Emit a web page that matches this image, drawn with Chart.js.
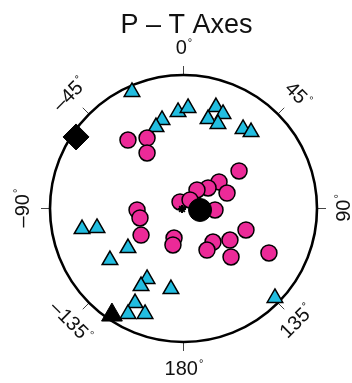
<!DOCTYPE html>
<html>
<head>
<meta charset="utf-8">
<script src="https://cdn.jsdelivr.net/npm/chart.js@4/dist/chart.umd.min.js"></script>
<style>
  html, body { margin: 0; padding: 0; background: #ffffff; }
  #c { display: block; }
</style>
</head>
<body>
<canvas id="c" width="352" height="383"></canvas>
<script>
// ---- data (projected positions inside the unit stereonet circle: x = east, y = north) ----
const titleText = "P \u2013 T Axes";

const tAxesX = [-0.386, -0.161, -0.206, -0.041, 0.034, 0.243, 0.296, 0.184, 0.258, 0.446, 0.506,
                -0.760, -0.648, -0.416, -0.551, -0.273, -0.318, -0.094, -0.363, -0.416, -0.288, 0.685];
const tAxesY = [0.873, 0.663, 0.610, 0.723, 0.753, 0.760, 0.708, 0.670, 0.633, 0.596, 0.573,
                -0.154, -0.146, -0.296, -0.386, -0.528, -0.581, -0.603, -0.708, -0.790, -0.790, -0.670];

const pAxesX = [-0.416, -0.273, -0.273, 0.416, 0.266, 0.184, 0.101, 0.326, -0.026, 0.049, 0.236,
                -0.348, -0.326, -0.318, -0.071, -0.079, 0.468, 0.348, 0.221, 0.176, 0.356, 0.640];
const pAxesY = [0.513, 0.528, 0.416, 0.281, 0.199, 0.154, 0.139, 0.116, 0.049, 0.064, -0.011,
                -0.011, -0.071, -0.199, -0.221, -0.273, -0.161, -0.236, -0.251, -0.311, -0.363, -0.333];

const meanPX = [0.124];   const meanPY = [-0.011];
const starX = [-0.011];   const starY = [-0.004];
const bAxisX = [-0.805];  const bAxisY = [0.536];
const meanTX = [-0.536];  const meanTY = [-0.798];

const tickAngles = [0, 45, 90, 135, 180, -135, -90, -45];
const tickLabels = ["0", "45", "90", "135", "180", "\u2013135", "\u201390", "\u201345"];

// ---- helpers ----
function pts(xs, ys) { return xs.map((x, i) => ({ x: x, y: ys[i] })); }

const labelRotation = { "0": 0, "45": 45, "90": -90, "135": -45, "180": 0, "-135": 45, "-90": -90, "-45": -45 };

const stereonetPlugin = {
  id: 'stereonet',
  beforeDatasetsDraw(chart) {
    const ctx = chart.ctx;
    const xs = chart.scales.x, ys = chart.scales.y;
    const cx = xs.getPixelForValue(0), cy = ys.getPixelForValue(0);
    const R = xs.getPixelForValue(1) - cx;
    ctx.save();
    // ticks
    ctx.strokeStyle = '#444';
    ctx.lineWidth = 1;
    tickAngles.forEach(a => {
      const t = a * Math.PI / 180;
      ctx.beginPath();
      ctx.moveTo(cx + Math.sin(t) * (R - 1), cy - Math.cos(t) * (R - 1));
      ctx.lineTo(cx + Math.sin(t) * (R + 9), cy - Math.cos(t) * (R + 9));
      ctx.stroke();
    });
    // outer circle
    ctx.strokeStyle = '#000';
    ctx.lineWidth = 2.6;
    ctx.beginPath();
    ctx.arc(cx, cy, R, 0, Math.PI * 2);
    ctx.stroke();
    // labels
    ctx.fillStyle = '#111';
    ctx.textBaseline = 'middle';
    ctx.textAlign = 'left';
    tickAngles.forEach((a, i) => {
      const t = a * Math.PI / 180;
      const r = R + 27;
      const lx = cx + Math.sin(t) * r, ly = cy - Math.cos(t) * r;
      const txt = tickLabels[i];
      ctx.save();
      ctx.translate(lx, ly);
      ctx.rotate(labelRotation[String(a)] * Math.PI / 180);
      ctx.font = '20px "Liberation Sans", Arial, sans-serif';
      const w1 = ctx.measureText(txt).width;
      ctx.font = '11px "Liberation Sans", Arial, sans-serif';
      const w2 = ctx.measureText('\u00b0').width;
      const x0 = -(w1 + w2) / 2;
      ctx.font = '20px "Liberation Sans", Arial, sans-serif';
      ctx.fillText(txt, x0, 0);
      ctx.font = '11px "Liberation Sans", Arial, sans-serif';
      ctx.fillText('\u00b0', x0 + w1 + 1, -5);
      ctx.restore();
    });
    // title
    ctx.font = '27px "Liberation Sans", Arial, sans-serif';
    ctx.textAlign = 'center';
    ctx.textBaseline = 'alphabetic';
    ctx.fillStyle = '#111';
    ctx.fillText(titleText, cx + 3, 33);
    ctx.restore();
  }
};

new Chart(document.getElementById('c'), {
  type: 'scatter',
  data: {
    datasets: [
      { label: 'T axes', data: pts(tAxesX, tAxesY), pointStyle: 'triangle', pointRadius: 9,
        backgroundColor: '#22bde0', borderColor: '#000', borderWidth: 1.5, order: 3 },
      { label: 'P axes', data: pts(pAxesX, pAxesY), pointStyle: 'circle', pointRadius: 8,
        backgroundColor: '#ec2a98', borderColor: '#000', borderWidth: 1.5, order: 2 },
      { label: 'mean P', data: pts(meanPX, meanPY), pointStyle: 'circle', pointRadius: 11.5,
        backgroundColor: '#000', borderColor: '#000', borderWidth: 1, order: 1 },
      { label: 'star', data: pts(starX, starY), pointStyle: 'star', pointRadius: 4,
        backgroundColor: '#000', borderColor: '#000', borderWidth: 2, order: 1 },
      { label: 'B axis', data: pts(bAxisX, bAxisY), pointStyle: 'rectRot', pointRadius: 13,
        backgroundColor: '#000', borderColor: '#000', borderWidth: 1, order: 1 },
      { label: 'mean T', data: pts(meanTX, meanTY), pointStyle: 'triangle', pointRadius: 12,
        backgroundColor: '#000', borderColor: '#000', borderWidth: 1, order: 1 }
    ]
  },
  options: {
    responsive: false,
    animation: false,
    layout: { padding: { left: 50, right: 35, top: 75, bottom: 41 } },
    scales: {
      x: { type: 'linear', min: -1, max: 1, display: false },
      y: { type: 'linear', min: -1, max: 1, display: false }
    },
    plugins: { legend: { display: false }, tooltip: { enabled: false } },
    elements: { point: { hoverRadius: 0 } }
  },
  plugins: [stereonetPlugin]
});
</script>
</body>
</html>
